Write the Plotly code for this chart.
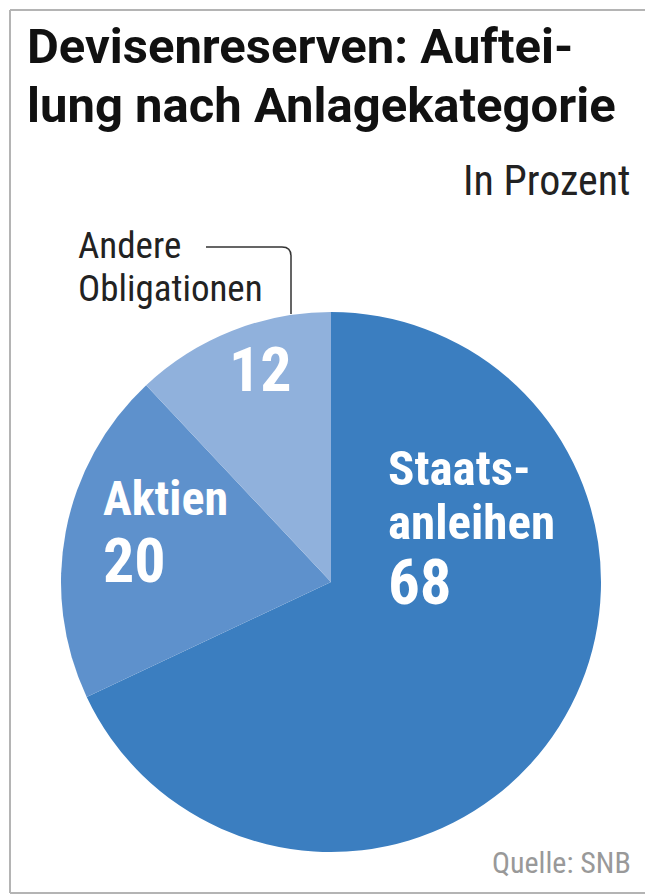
import plotly.graph_objects as go

W, H = 645, 896

categories = ["Staatsanleihen", "Aktien", "Andere Obligationen"]
values = [68, 20, 12]
colors = ["#3b7ec0", "#5e91cc", "#90b1dc"]

title_lines = ["Devisenreserven: Auftei-", "lung nach Anlagekategorie"]
subtitle = "In Prozent"
source = "Quelle: SNB"

def px(x):
    return x / W

def py(y):
    return 1 - y / H

# pie geometry (pixels)
cx, cy, r = 331, 582, 270

fig = go.Figure()
fig.add_trace(go.Pie(
    labels=categories,
    values=values,
    sort=False,
    direction="clockwise",
    rotation=0,
    marker=dict(colors=colors, line=dict(width=0)),
    textinfo="none",
    hoverinfo="label+value",
    showlegend=False,
    domain=dict(x=[px(cx - r), px(cx + r)], y=[py(cy + r), py(cy - r)]),
))

TITLE = "Roboto, Liberation Sans, sans-serif"
BOLD = "Roboto Condensed, Liberation Sans Narrow, DejaVu Sans Condensed, sans-serif"
REG = "Roboto Condensed, Liberation Sans Narrow, DejaVu Sans Condensed, sans-serif"

ann = []
# title
ann.append(dict(x=px(25), y=py(63), xanchor="left", yanchor="middle",
                text="<b>" + title_lines[0] + "</b>", showarrow=False, yshift=17,
                font=dict(family=TITLE, size=49, color="#111111")))
ann.append(dict(x=px(25), y=py(123), xanchor="left", yanchor="middle",
                text="<b>" + title_lines[1] + "</b>", showarrow=False, yshift=17,
                font=dict(family=TITLE, size=49, color="#111111")))
ann.append(dict(x=px(632), y=py(180), xanchor="right", yanchor="middle",
                text=subtitle, showarrow=False,
                font=dict(family=REG, size=42, color="#222222")))
# slice labels
lab = [
    ("<b>Staats-</b>", 386, 468, 49),
    ("<b>anleihen</b>", 386, 522, 49),
    ("<b>68</b>", 386, 582, 63),
    ("<b>Aktien</b>", 101, 498, 48),
    ("<b>20</b>", 101, 560, 62),
    ("<b>12</b>", 227, 369, 62),
]
for t, x, y, s in lab:
    ann.append(dict(x=px(x), y=py(y), xanchor="left", yanchor="middle",
                    text=t, showarrow=False,
                    font=dict(family=BOLD, size=s, color="#ffffff")))
ann.append(dict(x=px(76), y=py(246), xanchor="left", yanchor="middle",
                text="Andere", showarrow=False,
                font=dict(family=REG, size=37, color="#222222")))
ann.append(dict(x=px(76), y=py(289), xanchor="left", yanchor="middle",
                text="Obligationen", showarrow=False,
                font=dict(family=REG, size=37, color="#222222")))
ann.append(dict(x=px(633), y=py(862), xanchor="right", yanchor="middle",
                text=source, showarrow=False,
                font=dict(family=REG, size=30, color="#999999")))

shapes = [
    # frame
    dict(type="line", xref="paper", yref="paper", x0=px(10), x1=px(650), y0=py(10), y1=py(10),
         line=dict(color="#b4b4b4", width=2)),
    dict(type="line", xref="paper", yref="paper", x0=px(10), x1=px(10), y0=py(10), y1=py(893),
         line=dict(color="#b4b4b4", width=2)),
    dict(type="line", xref="paper", yref="paper", x0=px(10), x1=px(650), y0=py(893), y1=py(893),
         line=dict(color="#b4b4b4", width=2)),
    # leader line
    dict(type="path", xref="paper", yref="paper",
         path=f"M {px(206)} {py(247)} L {px(282)} {py(247)} Q {px(291)} {py(247)} {px(291)} {py(256)} L {px(291)} {py(314)}",
         line=dict(color="#333333", width=1.5)),
]

fig.update_layout(
    width=W, height=H,
    margin=dict(l=0, r=0, t=0, b=0),
    paper_bgcolor="#ffffff",
    plot_bgcolor="#ffffff",
    annotations=ann,
    shapes=shapes,
)

fig.write_html("out.html")
